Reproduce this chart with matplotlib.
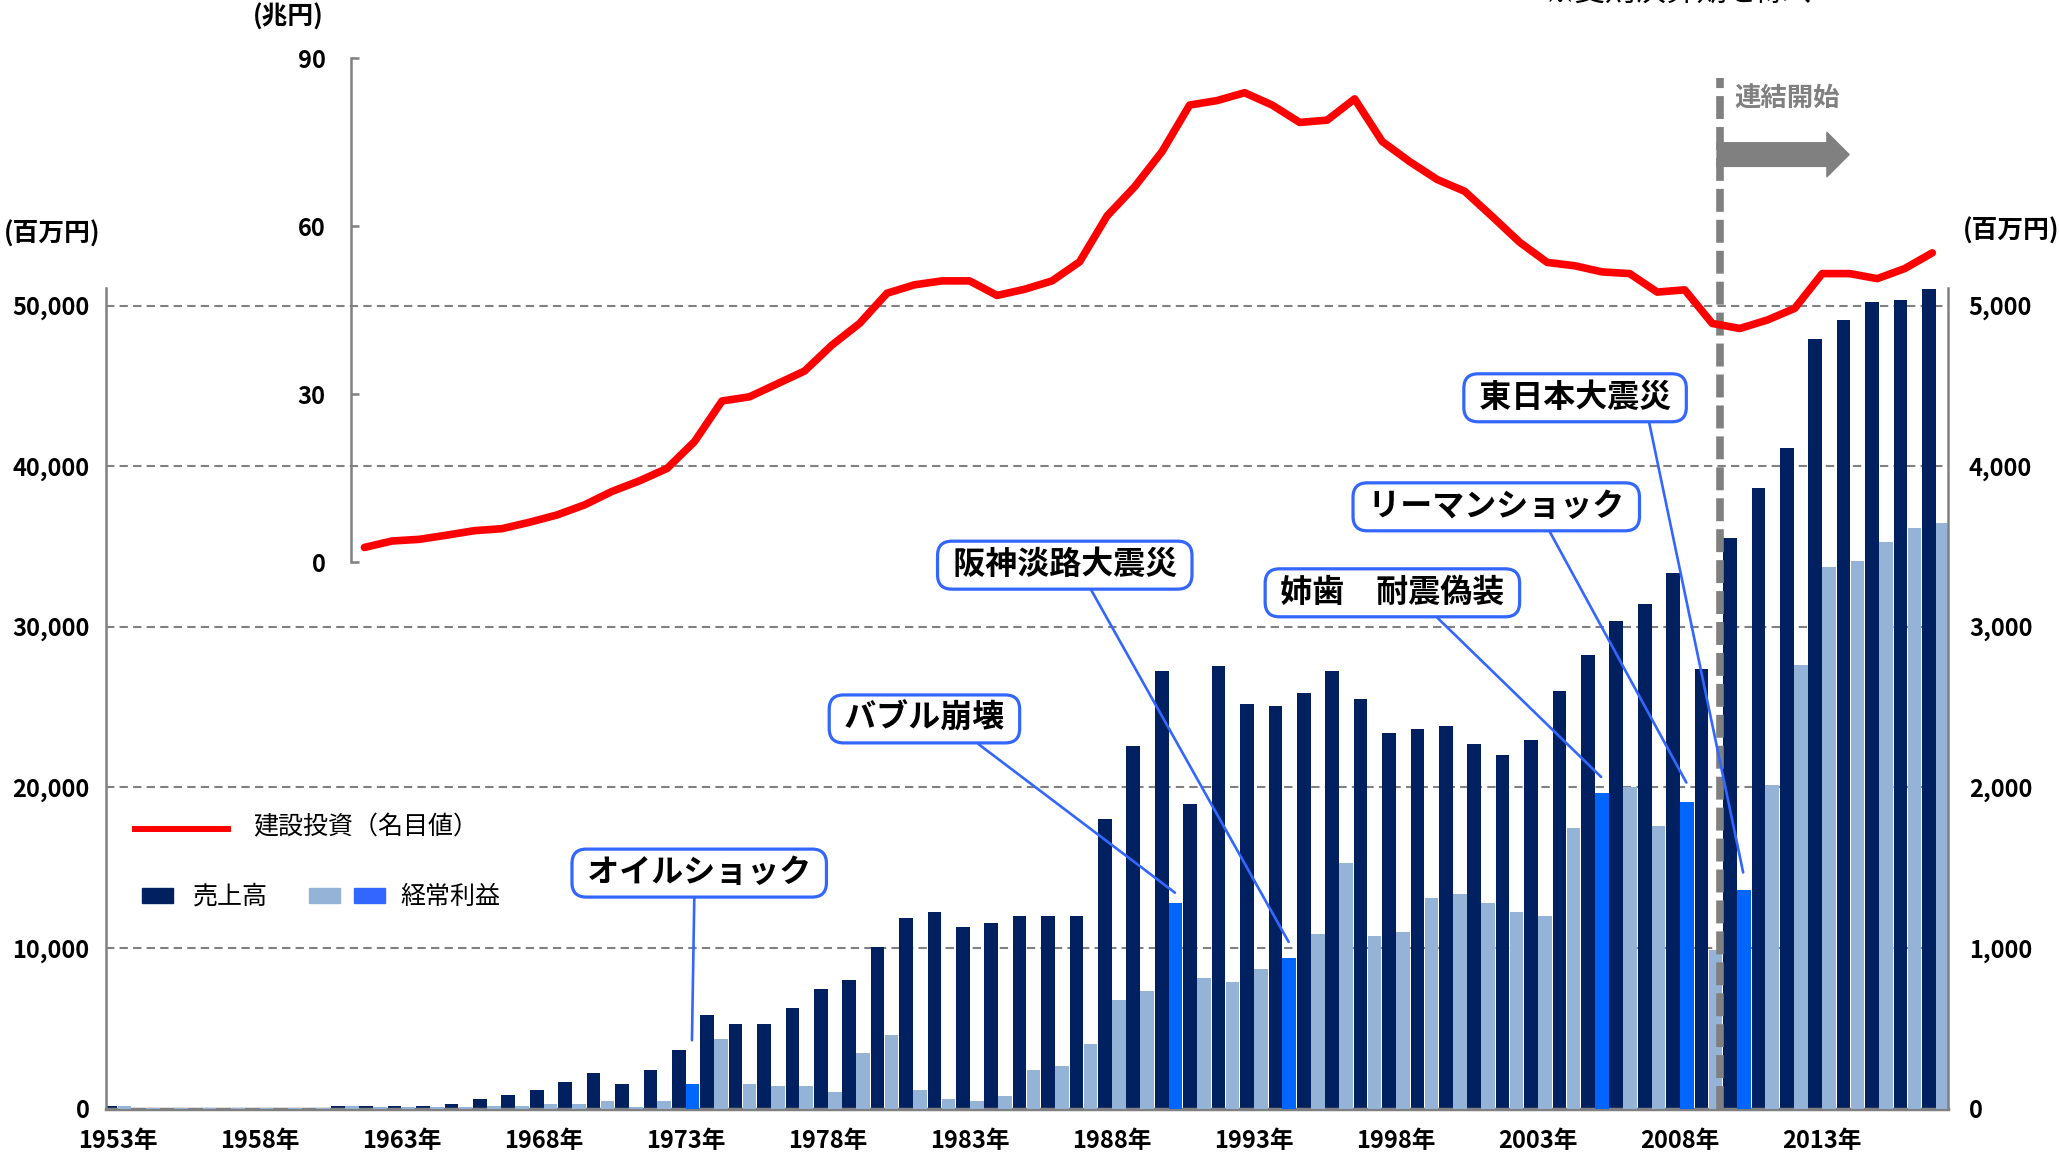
import numpy as np
import matplotlib
matplotlib.use("Agg")
import matplotlib.pyplot as plt
from matplotlib.patches import Rectangle
from matplotlib.lines import Line2D

plt.rcParams['font.family'] = ['Noto Sans CJK JP', 'DejaVu Sans']

""" Data """
years = list(range(1953, 2018))
# 売上高 (百万円, left axis)
sales = [170, 50, 50, 50, 50, 50, 50, 50, 170, 170,
         170, 170, 310, 580, 870, 1140, 1680, 2215, 1530, 2400,
         3620, 5820, 5260, 5260, 6230, 7450, 7990, 10060, 11860, 12250,
         11300, 11570, 11990, 11990, 11990, 18000, 22550, 27260, 18950, 27530,
         25190, 25060, 25900, 27260, 25480, 23390, 23660, 23800, 22700, 21990,
         22970, 26000, 28240, 30330, 31440, 33380, 27400, 35500, 38650, 41150,
         47900, 49100, 50200, 50350, 51050]
# 経常利益 (百万円, right axis)
profit = [17, 4, 4, 4, 4, 4, 4, 4, 17, 10,
          10, 10, 10, 17, 17, 31, 31, 46, 10, 48,
          155, 433, 155, 143, 143, 101, 348, 458, 114, 60,
          48, 75, 238, 267, 404, 677, 733, 1279, 814, 789,
          869, 938, 1089, 1528, 1072, 1101, 1308, 1335, 1279, 1225,
          1197, 1745, 1965, 2000, 1759, 1910, 985, 1360, 2015, 2760,
          3370, 3410, 3530, 3615, 3645]
highlight_years = [1973, 1990, 1994, 2005, 2008, 2010]

# 建設投資（名目値）(兆円)
invest_years = list(range(1960, 2018))
invest = [2.6, 3.75, 4.05, 4.8, 5.6, 5.95, 7.1, 8.4, 10.2, 12.6,
          14.5, 16.7, 21.5, 28.75, 29.5, 31.8, 34.1, 38.75, 42.6, 48.0,
          49.5, 50.2, 50.2, 47.6, 48.7, 50.2, 53.6, 61.8, 67.0, 73.3,
          81.6, 82.4, 83.8, 81.6, 78.5, 78.9, 82.7, 75.1, 71.5, 68.3,
          66.2, 61.7, 57.1, 53.5, 52.9, 51.8, 51.5, 48.2, 48.6, 42.6,
          41.7, 43.2, 45.3, 51.5, 51.5, 50.6, 52.4, 55.2]

events = ["オイルショック", "バブル崩壊", "阪神淡路大震災",
          "姉歯\u3000耐震偽装", "リーマンショック", "東日本大震災"]
event_years = [1973, 1990, 1994, 2005, 2008, 2010]

consolidation_year = 2009

""" Style """
NAVY = '#002060'
LIGHT = '#95B3D7'
BRIGHT = '#0066FF'
BOXBLUE = '#3366FF'
GREY = '#808080'

W, H = 2059, 1157
fig = plt.figure(figsize=(W / 100, H / 100), dpi=100)

""" Bars """
ax = fig.add_axes([106.4 / W, 1 - 1108.5 / H, (1948 - 106.4) / W, (1108.5 - 288) / H])
ax2 = ax.twinx()

x = np.arange(len(years))
bw = 0.48
ax.bar(x - 0.245, sales, width=bw, color=NAVY, zorder=2)
pcol = [BRIGHT if y in highlight_years else LIGHT for y in years]
ax2.bar(x + 0.245, profit, width=bw, color=pcol, zorder=2)

ax.set_xlim(-0.39, 64.43)
ax.set_ylim(0, 51100)
ax2.set_ylim(0, 5110)

ax.set_yticks(range(0, 50001, 10000))
ax.set_yticklabels([f"{v:,}" for v in range(0, 50001, 10000)])
ax2.set_yticks(range(0, 5001, 1000))
ax2.set_yticklabels([f"{v:,}" for v in range(0, 5001, 1000)])
ax.set_xticks(x[::5])
ax.set_xticklabels([f"{y}年" for y in years[::5]])

ax.grid(axis='y', ls=(0, (4, 2.5)), color=GREY, lw=1.5)
ax.tick_params(axis='y', length=0, pad=12, labelsize=17)
ax.tick_params(axis='x', length=0, pad=15, labelsize=17)
ax2.tick_params(axis='y', length=0, pad=15, labelsize=17)
for lab in ax.get_xticklabels() + ax.get_yticklabels() + ax2.get_yticklabels():
    lab.set_fontweight('bold')

for a in (ax, ax2):
    a.spines['top'].set_visible(False)
ax.spines['right'].set_visible(False)
ax2.spines['left'].set_visible(False)
ax2.spines['bottom'].set_visible(False)
ax.spines['left'].set_color(GREY)
ax.spines['left'].set_linewidth(1.8)
ax2.spines['right'].set_color(GREY)
ax2.spines['right'].set_linewidth(1.8)
ax.spines['bottom'].set_color(GREY)
ax.spines['bottom'].set_linewidth(2.5)

""" 連結開始 marker """
xc = years.index(consolidation_year) + 0.4
ax2.plot([xc, xc], [0, 6415], color=GREY, lw=5.5, ls=(0, (3.0, 1.05)),
         clip_on=False, zorder=6)
ax2.annotate('', xy=(60.95, 5941), xytext=(xc - 0.1, 5941), annotation_clip=False,
             arrowprops=dict(arrowstyle='simple,head_length=0.8,head_width=1.6,tail_width=0.85',
                             color=GREY, shrinkA=0, shrinkB=0, mutation_scale=20))
ax2.text(56.92, 6283, '連結開始', color=GREY, fontsize=19, fontweight='bold',
         va='center', ha='left', clip_on=False)

""" Event callouts """
box_pos = [(0.3219, 0.2869), (0.4442, 0.4748), (0.5204, 0.6622),
           (0.6983, 0.6285), (0.7547, 0.7333), (0.7975, 0.8662)]
rel_x = [0.48, 0.74, 0.59, 0.65, 0.68, 0.85]
gap = [270, 65, 100, 100, 120, 110]
for label, yr, bp, rp, g in zip(events, event_years, box_pos, rel_x, gap):
    i = years.index(yr)
    ax2.annotate(" " + label + " ", xy=(i + 0.22, profit[i] + g), xytext=bp,
                 textcoords='axes fraction', ha='center', va='center',
                 fontsize=23, fontweight='bold', annotation_clip=False, zorder=10,
                 bbox=dict(boxstyle='round,pad=0.25,rounding_size=0.45',
                           fc='white', ec=BOXBLUE, lw=2.3),
                 arrowprops=dict(arrowstyle='-', color=BOXBLUE, lw=1.9,
                                 relpos=(rp, 0), shrinkA=0, shrinkB=0))

""" Construction investment line """
axl = fig.add_axes([350.7 / W, 1 - 562 / H, (1946 - 350.7) / W, (562 - 58) / H])
axl.patch.set_visible(False)
axl.plot(np.arange(len(invest)), invest, color='#FF0000', lw=5.5,
         solid_capstyle='round', solid_joinstyle='round', clip_on=False)
axl.set_xlim(-0.5, 57.5)
axl.set_ylim(0, 90)
axl.set_yticks([0, 30, 60, 90])
axl.set_xticks([])
for s in ('top', 'right', 'bottom'):
    axl.spines[s].set_visible(False)
axl.spines['left'].set_color(GREY)
axl.spines['left'].set_linewidth(1.8)
axl.tick_params(axis='y', direction='in', length=6, width=1.8, color=GREY,
                pad=18, labelsize=17)
for lab in axl.get_yticklabels():
    lab.set_fontweight('bold')

""" Unit labels """
fig.text(288 / W, 1 - 17 / H, '(兆円)', ha='center', va='center', fontsize=18.5, fontweight='bold')
fig.text(52 / W, 1 - 234 / H, '(百万円)', ha='center', va='center', fontsize=18.5, fontweight='bold')
fig.text(1963 / W, 1 - 231 / H, '(百万円)', ha='left', va='center', fontsize=18.5, fontweight='bold')
# note at the top edge, mostly cut off as in the original
fig.text(0.817, 1 + 8 / H, '※変則決算期を除く', ha='center', va='center', fontsize=22)

""" Legend (drawn by hand) """
fig.add_artist(Line2D([135 / W, 227.7 / W], [1 - 829 / H] * 2, color='#FF0000', lw=4.3,
                      transform=fig.transFigure))
fig.text(253 / W, 1 - 827 / H, '建設投資（名目値）', va='center', fontsize=18)
for x0, c in ((141.7, NAVY), (309, LIGHT), (354, BOXBLUE)):
    fig.add_artist(Rectangle((x0 / W, 1 - 902.7 / H), 31 / W, 14.7 / H, color=c,
                             transform=fig.transFigure))
fig.text(193 / W, 1 - 897 / H, '売上高', va='center', fontsize=18)
fig.text(400 / W, 1 - 897 / H, '経常利益', va='center', fontsize=18)

fig.savefig('out.png', dpi=100)
